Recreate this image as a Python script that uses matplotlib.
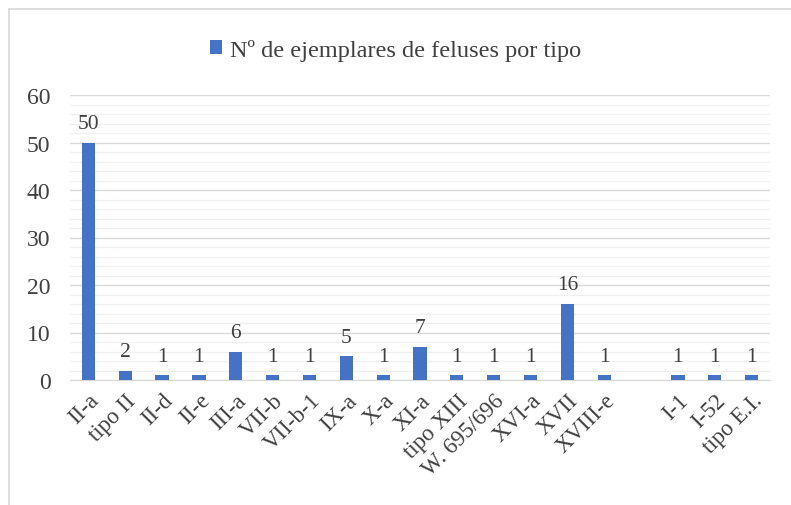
import matplotlib.pyplot as plt
from matplotlib.lines import Line2D
from matplotlib.ticker import MultipleLocator

plt.rcParams['font.family'] = ['Liberation Serif', 'DejaVu Serif']

# categories (one empty slot between XVIII-e and I-1, as in the source)
tipos = ['II-a', 'tipo II', 'II-d', 'II-e', 'III-a', 'VII-b', 'VII-b-1', 'IX-a', 'X-a',
         'XI-a', 'tipo XIII', 'W. 695/696', 'XVI-a', 'XVII', 'XVIII-e', '',
         'I-1', 'I-52', 'tipo E.I.']
ejemplares = [50, 2, 1, 1, 6, 1, 1, 5, 1, 7, 1, 1, 1, 16, 1, None, 1, 1, 1]

color = '#4472C4'
txt = '#404040'

fig = plt.figure(figsize=(7.91, 5.06), dpi=100)
ax = fig.add_axes([70 / 791, 1 - 381 / 506, 700 / 791, 285 / 506])

xs = [i for i, v in enumerate(ejemplares) if v is not None]
vals = [v for v in ejemplares if v is not None]
bars = ax.bar(xs, vals, width=0.36, color=color, zorder=3,
              label='Nº de ejemplares de feluses por tipo')
ax.bar_label(bars, padding=7, fontsize=15.5, color=txt)

ax.set_xlim(-0.5, len(tipos) - 0.5)
ax.set_ylim(0, 60)
ax.yaxis.set_major_locator(MultipleLocator(10))
ax.yaxis.set_minor_locator(MultipleLocator(2))
ax.grid(axis='y', which='major', color='#d9d9d9', linewidth=1, zorder=0)
ax.grid(axis='y', which='minor', color='#f0f0f0', linewidth=1, zorder=0)

ax.set_xticks(range(len(tipos)))
ax.set_xticklabels(tipos, rotation=45, ha='right', rotation_mode='anchor',
                   fontsize=16.5, color=txt)
ax.tick_params(axis='x', length=0, pad=7)
ax.tick_params(axis='y', which='both', length=0, labelsize=17,
               labelcolor=txt, pad=14)

for s in ['top', 'right', 'left']:
    ax.spines[s].set_visible(False)
ax.spines['bottom'].set_color('#d9d9d9')

fig.legend(loc='upper center', bbox_to_anchor=(0.5, 0.965), frameon=False,
           fontsize=17.5, handlelength=0.5, handleheight=0.5, handletextpad=0.3,
           labelcolor=txt)

# chart border (top and left edges visible in the original)
fig.add_artist(Line2D([8.5 / 791, 1], [1 - 9.5 / 506] * 2, transform=fig.transFigure,
                      color='#d9d9d9', linewidth=1.2))
fig.add_artist(Line2D([8.5 / 791] * 2, [0, 1 - 9.5 / 506], transform=fig.transFigure,
                      color='#d9d9d9', linewidth=1.2))

fig.savefig('out.png', dpi=100)
